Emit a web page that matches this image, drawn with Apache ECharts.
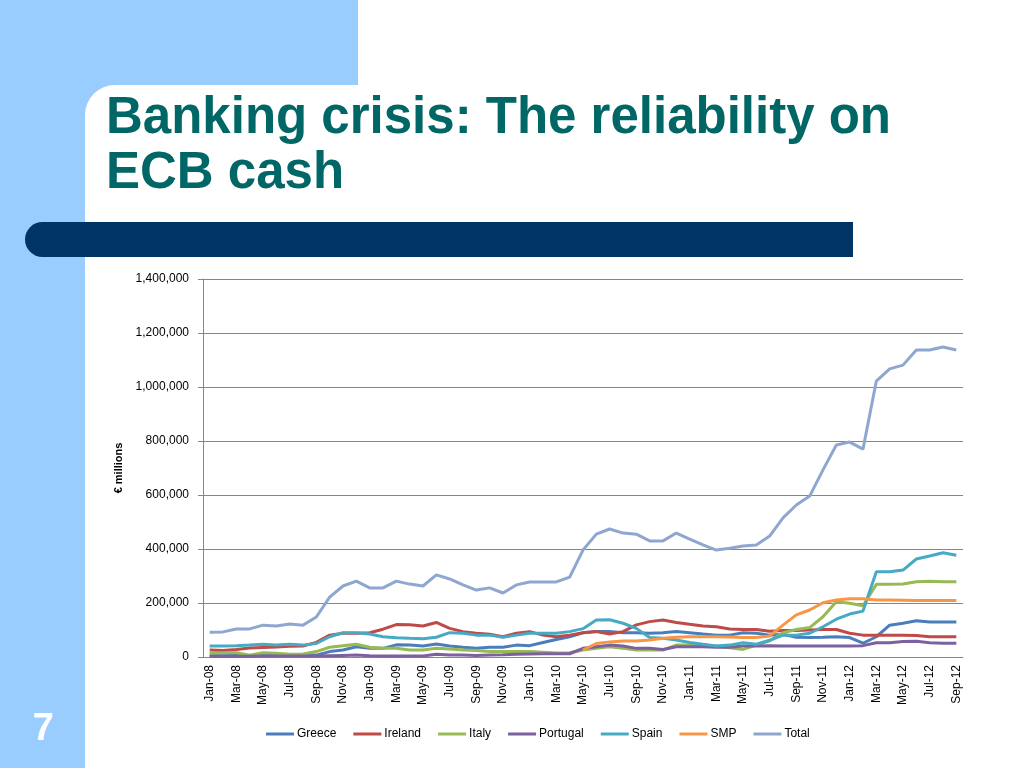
<!DOCTYPE html>
<html>
<head>
<meta charset="utf-8">
<script src="https://cdn.jsdelivr.net/npm/echarts@6/dist/echarts.min.js"></script>
<style>
  html, body { margin: 0; padding: 0; background: #fff; }
  body { width: 1024px; height: 768px; position: relative; overflow: hidden; font-family: 'Liberation Sans', Arial, sans-serif; }
  .blue-top { position: absolute; left: 0; top: 0; width: 358px; height: 120px; background: #99ccff; }
  .blue-left { position: absolute; left: 0; top: 0; width: 85px; height: 768px; background: #99ccff; }
  .white-corner { position: absolute; left: 85px; top: 85px; width: 300px; height: 120px; background: #fff; border-top-left-radius: 30px; }
  .title { position: absolute; left: 106px; top: 88px; margin: 0; color: #006666; font-size: 51px; font-weight: bold; line-height: 55px; }
  .bar { position: absolute; left: 25px; top: 222px; width: 828px; height: 35px; background: #003366; border-radius: 18px 0 0 18px; }
  .page { position: absolute; left: 28px; top: 706px; width: 30px; text-align: center; color: #fff; font-size: 38px; font-weight: bold; }
  #chart { position: absolute; left: 85px; top: 260px; width: 939px; height: 508px; }
</style>
</head>
<body>
<div class="blue-top"></div>
<div class="blue-left"></div>
<div class="white-corner"></div>
<h1 class="title">Banking crisis: The reliability on<br>ECB cash</h1>
<div class="bar"></div>
<div class="page">7</div>
<div id="chart"></div>
<script>
// monthly, Jan-08 .. Sep-12
const months = [
  'Jan-08','Feb-08','Mar-08','Apr-08','May-08','Jun-08','Jul-08','Aug-08','Sep-08','Oct-08','Nov-08','Dec-08',
  'Jan-09','Feb-09','Mar-09','Apr-09','May-09','Jun-09','Jul-09','Aug-09','Sep-09','Oct-09','Nov-09','Dec-09',
  'Jan-10','Feb-10','Mar-10','Apr-10','May-10','Jun-10','Jul-10','Aug-10','Sep-10','Oct-10','Nov-10','Dec-10',
  'Jan-11','Feb-11','Mar-11','Apr-11','May-11','Jun-11','Jul-11','Aug-11','Sep-11','Oct-11','Nov-11','Dec-11',
  'Jan-12','Feb-12','Mar-12','Apr-12','May-12','Jun-12','Jul-12','Aug-12','Sep-12'
]

// values in thousands of € millions
const greece = [5,5,6,6,7,7,8,8,7,20,26,38,32,32,45,44,41,48,41,36,32,36,36,44,42,54,65,75,90,94,94,90,90,88,90,94,90,85,81,81,90,88,81,84,73,72,73,75,72,51,75,118,125,134,130,130,130]
const ireland = [26,24,28,33,35,37,40,41,54,81,88,88,90,103,120,119,115,128,106,94,88,84,75,88,94,81,75,81,90,94,85,94,119,131,137,128,121,115,112,104,102,102,95,98,98,100,102,102,88,81,81,81,81,80,75,75,75]
const italy = [14,16,16,7,16,14,10,11,20,36,42,47,36,32,32,26,26,32,30,26,24,20,20,20,20,18,15,16,26,32,38,32,26,26,26,44,44,41,41,34,28,44,60,90,102,109,149,205,199,190,269,269,270,279,281,279,279]
const portugal = [3,3,3,3,4,4,4,4,4,5,6,7,5,4,4,4,4,10,7,7,6,7,8,10,11,12,12,12,32,38,44,41,32,32,28,38,38,38,36,36,41,41,42,41,41,41,41,41,41,42,53,53,57,58,53,51,51]
const spain = [41,41,42,44,47,44,47,44,50,75,90,90,85,75,71,69,68,73,90,88,81,81,73,81,88,88,88,94,105,137,138,125,106,72,69,63,54,47,41,44,53,47,62,81,81,88,112,140,159,170,316,316,322,363,374,386,377]
const smp = [null,null,null,null,null,null,null,null,null,null,null,null,null,null,null,null,null,null,null,null,null,null,null,null,null,null,null,null,
  26,50,56,59,59,63,69,73,75,75,75,74,72,72,78,118,156,174,201,211,216,216,211,211,210,209,209,209,209]
const total = [92,93,104,104,118,115,122,118,148,222,263,281,256,256,281,270,263,304,289,267,248,256,237,267,278,278,278,296,396,455,474,459,455,430,430,459,437,415,396,403,411,415,448,515,563,596,693,785,796,770,1022,1067,1081,1137,1137,1148,1137]

const seriesNames = ['Greece', 'Ireland', 'Italy', 'Portugal', 'Spain', 'SMP', 'Total']
const seriesData = [greece, ireland, italy, portugal, spain, smp, total]
const colors = ['#4a7ebb', '#be4b48', '#98b954', '#7d60a0', '#46aac5', '#f79646', '#8ea6d0']

const font = "'Liberation Sans', Arial, sans-serif"

const chart = echarts.init(document.getElementById('chart'))
chart.setOption({
  animation: false,
  color: colors,
  grid: { left: 118, right: 61, top: 19, bottom: 111 },
  legend: {
    left: 176,
    top: 463,
    icon: 'rect',
    itemWidth: 28,
    itemHeight: 3,
    itemGap: 17,
    textStyle: { fontFamily: font, fontSize: 12, color: '#000', padding: [0, 0, 0, -2] },
    data: seriesNames
  },
  xAxis: {
    type: 'category',
    data: months,
    boundaryGap: true,
    axisLine: { lineStyle: { color: '#868686' } },
    axisTick: { interval: 1, length: 5, lineStyle: { color: '#868686' } },
    axisLabel: { interval: 1, rotate: 90, margin: 8, fontFamily: font, fontSize: 12, color: '#000' },
    splitLine: { show: false }
  },
  yAxis: {
    type: 'value',
    min: 0,
    max: 1400000,
    interval: 200000,
    name: '€ millions',
    nameLocation: 'middle',
    nameRotate: 90,
    nameGap: 78,
    nameTextStyle: { fontFamily: font, fontSize: 11, fontWeight: 'bold', color: '#000' },
    axisLine: { show: true, lineStyle: { color: '#868686' } },
    axisTick: { show: true, length: 5, lineStyle: { color: '#868686' } },
    axisLabel: {
      margin: 14, fontFamily: font, fontSize: 12, color: '#000',
      formatter: v => v.toLocaleString('en-US')
    },
    splitLine: { lineStyle: { color: '#868686', width: 1 } }
  },
  series: seriesNames.map((name, i) => ({
    name: name,
    type: 'line',
    data: seriesData[i].map(v => v == null ? null : v * 1000),
    showSymbol: false,
    symbol: 'none',
    lineStyle: { width: 3 },
    connectNulls: false
  }))
})
</script>
</body>
</html>
